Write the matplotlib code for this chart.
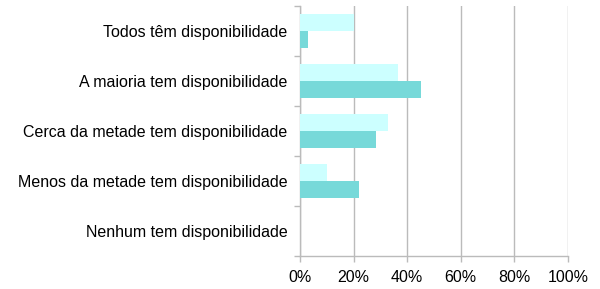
import matplotlib.pyplot as plt
import numpy as np

plt.rcParams['font.family'] = ['Liberation Sans', 'DejaVu Sans']

# categories from top to bottom
categories = ['Todos têm disponibilidade',
              'A maioria tem disponibilidade',
              'Cerca da metade tem disponibilidade',
              'Menos da metade tem disponibilidade',
              'Nenhum tem disponibilidade']
serie_clara = [20, 36.5, 33, 10, 0]
serie_escura = [3, 45, 28.5, 22, 0]
xticks = [0, 20, 40, 60, 80, 100]

fig = plt.figure(figsize=(6, 2.89), dpi=100)
ax = fig.add_axes([300 / 600, 1 - 256 / 289, 268 / 600, 250 / 289])

y = np.arange(len(categories))
h = 0.34
ax.barh(y - h / 2, serie_clara, height=h, color='#CCFFFF', zorder=3)
ax.barh(y + h / 2, serie_escura, height=h, color='#77D9D9', zorder=3)

ax.set_ylim(len(categories) - 0.5, -0.5)
ax.set_xlim(0, 100)
ax.set_xticks(xticks)
ax.set_xticklabels([f'{v}%' for v in xticks], fontsize=11.5)
ax.set_yticks(y)
ax.set_yticklabels(categories, fontsize=11.5)
ax.set_yticks(np.arange(len(categories) + 1) - 0.5, minor=True)

ax.tick_params(axis='y', which='major', length=0, pad=9)
ax.tick_params(axis='y', which='minor', length=4, color='#BBBBBB', width=1)
ax.tick_params(axis='x', length=4, color='#BBBBBB', width=1, pad=6)

ax.grid(axis='x', color='#BBBBBB', linewidth=1, zorder=0)
for s in ['top', 'right']:
    ax.spines[s].set_visible(False)
for s in ['left', 'bottom']:
    ax.spines[s].set_color('#BBBBBB')
    ax.spines[s].set_linewidth(1)

fig.savefig('out.png', dpi=100)
